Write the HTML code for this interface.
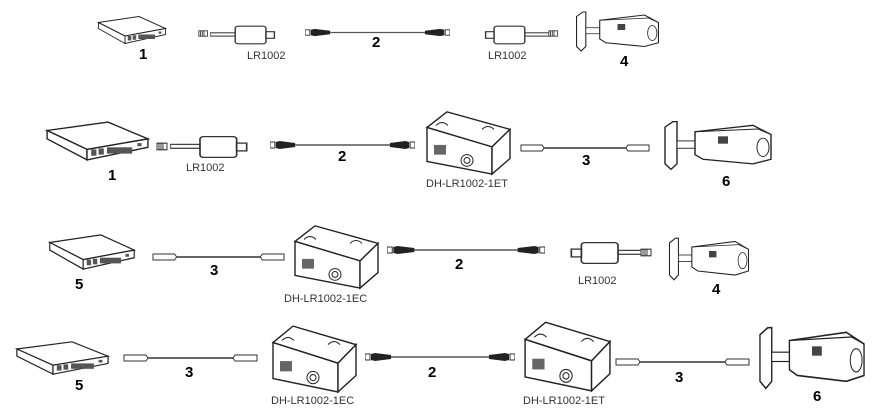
<!DOCTYPE html>
<html><head><meta charset="utf-8"><style>
html,body{margin:0;padding:0;background:#fff;width:874px;height:414px;overflow:hidden}
text{font-family:"Liberation Sans",Arial,sans-serif}
.n{font-weight:bold;font-size:15px;fill:#000}
.l{font-size:11px;fill:#333}
</style></head><body>
<svg width="874" height="414" viewBox="0 0 874 414" xmlns="http://www.w3.org/2000/svg">
<defs>
<symbol id="sw" viewBox="0 0 100 40" preserveAspectRatio="none">
<path d="M2 10 L60 2 L98 18 L40 28 Z" fill="#fff" stroke="#222" stroke-width="1.3"/>
<path d="M2 10 L2 18 L40 38 L40 28 Z" fill="#fff" stroke="#222" stroke-width="1.3"/>
<path d="M40 28 L98 18 L98 26 L40 38 Z" fill="#fff" stroke="#222" stroke-width="1.3"/>
<g fill="#555"><rect x="44" y="28" width="5" height="6"/><rect x="51" y="27" width="5" height="6"/><rect x="59" y="26" width="24" height="6"/><rect x="88" y="22" width="4" height="3"/></g>
</symbol>
<symbol id="lr" viewBox="0 0 60 20" preserveAspectRatio="none">
<rect x="0" y="8" width="18" height="3" fill="#fff" stroke="#444"/>
<rect x="18" y="2" width="22" height="16" rx="2" fill="#fff" stroke="#333"/>
<rect x="40" y="7" width="6" height="6" fill="#fff" stroke="#333"/>
</symbol>
<symbol id="rjp" viewBox="0 0 14 10" preserveAspectRatio="none">
<path d="M1 2 h10 v6 h-10 z M3 2 v6 M5 2 v6 M7 2 v6" fill="#fff" stroke="#333"/>
</symbol>
<symbol id="bnc" viewBox="0 0 150 10" preserveAspectRatio="none">
<rect x="0" y="2" width="5" height="6" fill="#fff" stroke="#333"/>
<path d="M6 2 L10 1 L26 3 L26 7 L10 9 L6 8Z" fill="#222"/>
<line x1="26" y1="5" x2="124" y2="5" stroke="#555" stroke-width="1.5"/>
<path d="M144 2 L140 1 L124 3 L124 7 L140 9 L144 8Z" fill="#222"/>
<rect x="145" y="2" width="5" height="6" fill="#fff" stroke="#333"/>
</symbol>
<symbol id="rjc" viewBox="0 0 135 12" preserveAspectRatio="none">
<path d="M1 3 h22 l2 3 l-2 3 h-22 z" fill="#fff" stroke="#333"/>
<line x1="25" y1="6" x2="110" y2="6" stroke="#666" stroke-width="2"/>
<path d="M134 3 h-22 l-2 3 l2 3 h22 z" fill="#fff" stroke="#333"/>
</symbol>
<symbol id="box" viewBox="0 0 90 70" preserveAspectRatio="none">
<path d="M5 20 L25 4 L88 22 L70 40 Z" fill="#fff" stroke="#222" stroke-width="1.4"/>
<path d="M5 20 L5 55 L70 68 L70 40 Z" fill="#fff" stroke="#222" stroke-width="1.4"/>
<path d="M70 40 L88 22 L88 52 L70 68 Z" fill="#fff" stroke="#222" stroke-width="1.4"/>
<rect x="12" y="38" width="12" height="10" fill="#666"/>
<circle cx="45" cy="54" r="6" fill="#fff" stroke="#222"/>
<circle cx="45" cy="54" r="3" fill="#fff" stroke="#222"/>
<path d="M14 18 q6 -6 12 0 M60 22 q6 -6 12 0" fill="none" stroke="#222"/>
</symbol>
<symbol id="cam" viewBox="0 0 110 60" preserveAspectRatio="none">
<path d="M2 10 L10 4 L14 4 L14 50 L8 56 L2 50 Z" fill="#fff" stroke="#222" stroke-width="1.4"/>
<rect x="14" y="25" width="18" height="8" fill="#fff" stroke="#222"/>
<path d="M32 15 L90 8 L108 18 L108 45 L90 50 L40 45 L32 40 Z" fill="#fff" stroke="#222" stroke-width="1.4"/>
<path d="M32 15 L95 12 L108 18" fill="none" stroke="#222"/>
<ellipse cx="100" cy="32" rx="6" ry="10" fill="#fff" stroke="#222"/>
<rect x="55" y="20" width="10" height="8" fill="#444"/>
</symbol>
</defs>

<!-- Row 1 -->
<use href="#sw" x="97" y="15" width="70" height="30"/>
<text class="n" x="139" y="59">1</text>
<use href="#rjp" x="198" y="29" width="12" height="9"/>
<use href="#lr" x="210" y="24" width="84" height="22"/>
<text class="l" x="247" y="59">LR1002</text>
<use href="#bnc" x="305" y="28" width="145" height="9"/>
<text class="n" x="372" y="47">2</text>
<g transform="translate(1016,0) scale(-1,1)"><use href="#lr" x="466" y="24" width="84" height="22"/></g>
<use href="#rjp" x="548" y="29" width="12" height="9"/>
<text class="l" x="488" y="59">LR1002</text>
<use href="#cam" x="575" y="9" width="85" height="45"/>
<text class="n" x="620" y="66">4</text>

<!-- Row 2 -->
<use href="#sw" x="45" y="120" width="105" height="42"/>
<text class="n" x="108" y="180">1</text>
<use href="#rjp" x="156" y="141" width="14" height="11"/>
<use href="#lr" x="170" y="134" width="100" height="26"/>
<text class="l" x="186" y="171">LR1002</text>
<use href="#bnc" x="270" y="140" width="145" height="10"/>
<text class="n" x="338" y="161">2</text>
<use href="#box" x="422" y="108" width="90" height="68"/>
<text class="l" x="426" y="187">DH-LR1002-1ET</text>
<use href="#rjc" x="520" y="142" width="130" height="12"/>
<text class="n" x="582" y="165">3</text>
<use href="#cam" x="663" y="118" width="110" height="55"/>
<text class="n" x="722" y="186">6</text>

<!-- Row 3 -->
<use href="#sw" x="48" y="233" width="88" height="38"/>
<text class="n" x="75" y="289">5</text>
<use href="#rjc" x="152" y="251" width="133" height="12"/>
<text class="n" x="210" y="275">3</text>
<use href="#box" x="290" y="222" width="90" height="68"/>
<text class="l" x="284" y="302">DH-LR1002-1EC</text>
<use href="#bnc" x="387" y="245" width="158" height="10"/>
<text class="n" x="455" y="269">2</text>
<g transform="translate(1188,0) scale(-1,1)"><use href="#lr" x="540" y="240" width="100" height="26"/></g>
<use href="#rjp" x="640" y="247" width="14" height="11"/>
<text class="l" x="578" y="284">LR1002</text>
<use href="#cam" x="668" y="235" width="82" height="48"/>
<text class="n" x="712" y="294">4</text>

<!-- Row 4 -->
<use href="#sw" x="15" y="340" width="95" height="36"/>
<text class="n" x="75" y="390">5</text>
<use href="#rjc" x="123" y="352" width="135" height="12"/>
<text class="n" x="185" y="377">3</text>
<use href="#box" x="268" y="322" width="90" height="72"/>
<text class="l" x="271" y="404">DH-LR1002-1EC</text>
<use href="#bnc" x="365" y="352" width="150" height="10"/>
<text class="n" x="428" y="377">2</text>
<use href="#box" x="520" y="318" width="92" height="75"/>
<text class="l" x="523" y="404">DH-LR1002-1ET</text>
<use href="#rjc" x="615" y="356" width="135" height="12"/>
<text class="n" x="675" y="382">3</text>
<use href="#cam" x="758" y="323" width="108" height="70"/>
<text class="n" x="813" y="401">6</text>
</svg>
</body></html>
